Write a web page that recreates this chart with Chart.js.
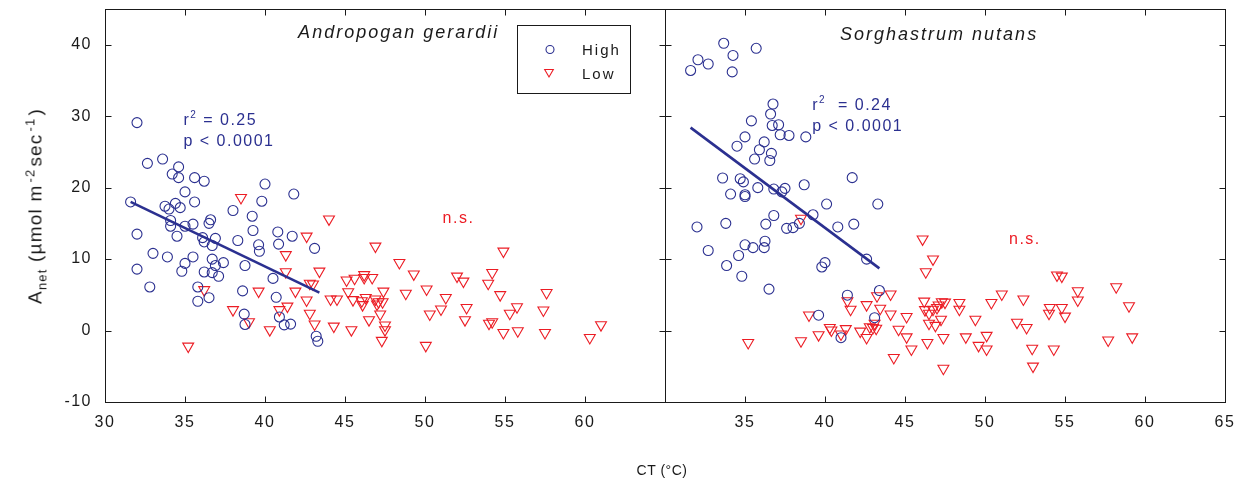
<!DOCTYPE html>
<html>
<head>
<meta charset="utf-8">
<script src="https://cdn.jsdelivr.net/npm/chart.js@4.4.1/dist/chart.umd.min.js"></script>
<style>
  body { margin: 0; background: #fff; }
  #wrap { position: relative; width: 1244px; height: 487px; font-family: 'Liberation Sans', Arial, sans-serif; color: #1a1a1a; }
  #left { position: absolute; left: 0; top: 0; }
  #right { position: absolute; left: 665px; top: 0; }
  #ytitle { position: absolute; left: 36px; top: 206px; transform: translate(-50%, -50%) rotate(-90deg);
            white-space: nowrap; font-size: 19px; letter-spacing: 1.2px; }
  #ytitle sub, #ytitle sup { font-size: 13px; }
  #ytitle sup { margin: 0 2px; }
  #xtitle { position: absolute; left: 662px; top: 462px; transform: translateX(-50%);
            white-space: nowrap; font-size: 14px; letter-spacing: 0.5px; }
</style>
</head>
<body>
<div id="wrap">
  <canvas id="left" width="666" height="487"></canvas>
  <canvas id="right" width="580" height="487"></canvas>
  <div id="ytitle">A<sub>net</sub> (µmol m<sup>-2</sup>sec<sup>-1</sup>)</div>
  <div id="xtitle">CT (°C)</div>
</div>
<script>
// Andropogan gerardii, [CT, Anet]
const agHigh = [
  [32.0, 29.1], [32.65, 23.4], [33.6, 24.0], [34.6, 22.9], [34.2, 21.9], [34.6, 21.4], [35.6, 21.4],
  [36.2, 20.9], [35.0, 19.4], [40.0, 20.5], [31.6, 18.0], [33.75, 17.4], [34.4, 17.8], [34.0, 17.0],
  [34.7, 17.2], [35.6, 18.0], [38.0, 16.8], [39.2, 16.0], [39.8, 18.1], [41.8, 19.1], [34.1, 15.4],
  [34.1, 14.6], [35.0, 14.6], [35.5, 14.9], [36.5, 15.0], [36.6, 15.5], [32.0, 13.5], [34.5, 13.2],
  [36.1, 13.0], [36.2, 12.4], [36.9, 12.9], [36.7, 11.9], [39.25, 14.0], [40.8, 13.8], [38.3, 12.6],
  [39.6, 12.0], [39.65, 11.1], [40.85, 12.1], [33.0, 10.8], [33.9, 10.3], [32.0, 8.6], [32.8, 6.1],
  [35.0, 9.4], [35.5, 10.3], [34.8, 8.3], [36.2, 8.2], [36.7, 10.0], [36.9, 9.1], [37.4, 9.5],
  [36.7, 8.1], [37.1, 7.6], [38.75, 9.1], [40.5, 7.3], [35.8, 6.1], [36.5, 4.6], [35.8, 4.1],
  [38.6, 5.55], [40.7, 4.65], [38.7, 2.3], [38.75, 0.85], [40.9, 1.9], [41.2, 0.8], [41.6, 0.9],
  [41.7, 13.2], [43.1, 11.5], [43.2, -0.8], [43.3, -1.5]
];
const agLow = [
  [38.5, 18.6], [44.0, 15.6], [42.6, 13.2], [46.9, 11.8], [41.3, 10.6], [41.3, 8.2], [43.4, 8.3],
  [48.4, 9.5], [49.3, 7.9], [46.2, 7.8], [46.7, 7.4], [45.6, 7.3], [45.1, 7.05], [46.2, 7.4],
  [42.8, 6.6], [43.0, 6.5], [41.9, 5.5], [45.2, 5.4], [47.4, 5.5], [48.8, 5.2], [50.1, 5.8],
  [52.0, 7.6], [52.4, 6.9], [51.3, 4.6], [51.0, 3.0], [50.3, 2.3], [52.6, 3.2], [52.5, 1.5],
  [42.6, 4.25], [44.1, 4.4], [44.5, 4.4], [45.5, 4.3], [46.05, 4.15], [46.3, 4.6], [46.1, 3.6],
  [46.9, 4.4], [47.1, 4.0], [47.0, 3.7], [47.35, 4.0], [42.8, 2.4], [43.1, 0.9], [44.3, 0.6],
  [45.4, 0.1], [46.5, 1.5], [47.2, 2.3], [47.5, 0.75], [47.5, 0.1], [47.3, -1.4], [50.05, -2.1],
  [54.9, 11.1], [54.2, 8.1], [53.95, 6.6], [54.7, 5.0], [57.6, 5.3], [55.75, 3.3], [55.3, 2.4],
  [57.4, 2.85], [54.0, 1.0], [54.2, 1.2], [54.9, -0.3], [55.8, -0.05], [57.5, -0.3], [61.0, 0.8],
  [60.3, -1.0], [36.2, 5.7], [39.6, 5.5], [38.0, 2.9], [39.0, 1.2], [40.3, 0.1], [40.9, 2.9],
  [41.4, 3.4], [35.2, -2.2]
];
// Sorghastrum nutans, [CT, Anet]
const snHigh = [
  [33.67, 40.2], [32.06, 37.9], [32.7, 37.3], [31.6, 36.4], [34.25, 38.5], [34.2, 36.2], [35.7, 39.5],
  [36.75, 31.7], [36.6, 30.3], [35.4, 29.35], [36.7, 28.7], [37.1, 28.8], [37.2, 27.4], [37.75, 27.3],
  [38.8, 27.1], [35.0, 27.1], [34.5, 25.8], [36.2, 26.4], [35.9, 25.3], [36.65, 24.8], [35.6, 24.0],
  [36.55, 23.8], [33.6, 21.35], [34.7, 21.25], [34.9, 20.8], [34.1, 19.1], [35.0, 19.0], [35.0, 18.75],
  [35.8, 20.0], [36.8, 19.8], [37.3, 19.4], [37.5, 19.9], [38.7, 20.4], [41.7, 21.4], [40.1, 17.7],
  [39.25, 16.2], [36.8, 16.1], [32.0, 14.5], [33.8, 15.0], [36.3, 14.9], [37.6, 14.3], [38.0, 14.4],
  [38.4, 15.0], [40.8, 14.5], [41.8, 14.9], [32.7, 11.2], [35.0, 12.0], [35.5, 11.6], [36.25, 12.5],
  [36.2, 11.6], [34.6, 10.5], [33.85, 9.1], [34.8, 7.6], [36.5, 5.8], [40.0, 9.5], [39.8, 8.9],
  [41.4, 4.95], [39.6, 2.15], [41.0, -1.0], [43.3, 17.7], [42.6, 10.0], [43.4, 5.6], [43.1, 1.8]
];
const snLow = [
  [38.5, 15.7], [35.2, -1.7], [38.5, -1.45], [39.0, 2.15], [39.6, -0.6], [40.3, 0.4], [40.4, 0.05],
  [41.0, -0.5], [41.3, 0.25], [41.4, 4.15], [41.6, 2.95], [46.1, 12.8], [46.75, 10.0], [46.3, 8.2],
  [44.1, 5.1], [43.25, 4.85], [42.6, 3.6], [43.45, 3.1], [44.1, 2.3], [45.1, 1.95], [46.2, 4.1],
  [46.25, 2.9], [46.5, 2.4], [46.75, 2.95], [47.0, 3.2], [47.1, 3.55], [47.3, 4.0], [47.5, 3.95],
  [47.25, 1.55], [46.9, 0.7], [46.5, 1.0], [48.4, 3.9], [48.4, 2.95], [49.4, 1.55], [50.4, 3.9],
  [51.05, 5.1], [52.4, 4.4], [52.0, 1.15], [52.6, 0.4], [42.8, 0.5], [43.0, 0.4], [43.1, 1.0],
  [43.2, 0.3], [42.2, -0.1], [42.6, -1.0], [44.6, 0.15], [45.1, -0.9], [45.4, -2.6], [44.3, -3.8],
  [46.4, -1.7], [47.4, -1.0], [47.4, -5.3], [48.8, -0.9], [50.1, -0.7], [49.6, -2.1], [50.1, -2.6],
  [52.95, -2.5], [53.0, -5.0], [54.5, 7.75], [54.8, 7.6], [55.8, 5.55], [55.8, 4.25], [58.2, 6.1],
  [54.05, 3.2], [54.0, 2.4], [54.8, 3.2], [55.0, 2.0], [59.0, 3.45], [57.7, -1.35], [59.2, -0.9],
  [54.3, -2.6]
];
// regression line end points (High only)
const agFit = [[31.6, 18.0], [43.4, 5.3]];
const snFit = [[31.6, 28.4], [43.4, 8.7]];

const yTicks = [-10, 0, 10, 20, 30, 40];
const agTicks = [30, 35, 40, 45, 50, 55, 60];
const snTicks = [35, 40, 45, 50, 55, 60, 65];

const BLUE = '#2b3090', RED = '#ec1c24', INK = '#1a1a1a';
const FONT = "'Liberation Sans', Arial, sans-serif";

const pts = arr => arr.map(([x, y]) => ({ x, y }));

function marker(ctx, style, cx, cy, r, color) {
  ctx.strokeStyle = color;
  ctx.lineWidth = 1.1;
  ctx.beginPath();
  if (style === 'circle') {
    ctx.arc(cx, cy, r, 0, Math.PI * 2);
  } else {
    ctx.moveTo(cx - r * 0.866, cy - r / 2);
    ctx.lineTo(cx + r * 0.866, cy - r / 2);
    ctx.lineTo(cx, cy + r);
    ctx.closePath();
  }
  ctx.stroke();
}

// text pieces, some of them raised as superscript
function runs(ctx, x, y, parts, size, color, italic) {
  ctx.fillStyle = color;
  ctx.textBaseline = 'alphabetic';
  ctx.textAlign = 'left';
  parts.forEach(p => {
    const sup = Array.isArray(p);
    const t = sup ? p[0] : p;
    ctx.font = (italic ? 'italic ' : '') + (sup ? Math.round(size * 0.65) : size) + 'px ' + FONT;
    ctx.fillText(t, x, sup ? y - size * 0.45 : y);
    x += ctx.measureText(t).width;
  });
}

// box with inward ticks, plus the texts that sit inside a panel
const framePlugin = {
  id: 'frame',
  beforeDraw(chart) {
    chart.ctx.letterSpacing = '1.5px';
  },
  afterDraw(chart, args, opts) {
    const { ctx, chartArea: a, scales: { x, y } } = chart;
    const L = Math.floor(a.left) + 0.5, R = Math.floor(a.right) + 0.5;
    const T = Math.floor(a.top) + 0.5, B = Math.floor(a.bottom) + 0.5;
    ctx.save();
    ctx.strokeStyle = INK;
    ctx.lineWidth = 1;
    ctx.strokeRect(L, T, R - L, B - T);
    ctx.beginPath();
    x.ticks.forEach(t => {
      const px = Math.round(x.getPixelForValue(t.value)) + 0.5;
      ctx.moveTo(px, B); ctx.lineTo(px, B - 6);
      ctx.moveTo(px, T); ctx.lineTo(px, T + 6);
    });
    y.ticks.forEach(t => {
      const py = Math.round(y.getPixelForValue(t.value)) + 0.5;
      ctx.moveTo(L, py); ctx.lineTo(L + 6, py);
      ctx.moveTo(R, py); ctx.lineTo(R - 6, py);
    });
    ctx.stroke();

    (opts.notes || []).forEach(n => {
      ctx.letterSpacing = n.spacing || '1.5px';
      runs(ctx, x.getPixelForValue(n.x), y.getPixelForValue(n.y), n.parts, n.size, n.color, n.italic);
    });

    if (opts.legend) {
      const lg = opts.legend;
      ctx.strokeStyle = INK;
      ctx.lineWidth = 1;
      ctx.strokeRect(lg.left + 0.5, lg.top + 0.5, lg.width, lg.height);
      marker(ctx, 'circle', lg.left + 33, lg.top + 24.5, 4, BLUE);
      marker(ctx, 'triangle', lg.left + 32, lg.top + 47, 5, RED);
      ctx.letterSpacing = '2px';
      ctx.fillStyle = INK;
      ctx.font = '15px ' + FONT;
      ctx.fillText('High', lg.left + 65, lg.top + 30);
      ctx.fillText('Low', lg.left + 65, lg.top + 54);
    }
    ctx.restore();
  }
};

function makeChart(id, high, low, fit, xTicks, showY, frameOpts) {
  return new Chart(document.getElementById(id), {
    type: 'scatter',
    data: {
      datasets: [
        { label: 'fit', data: pts(fit), showLine: true, borderColor: BLUE, borderWidth: 2.6, pointRadius: 0 },
        { label: 'High', data: pts(high), pointStyle: 'circle', pointRadius: 5,
          borderColor: BLUE, backgroundColor: 'rgba(0,0,0,0)', borderWidth: 1.1 },
        { label: 'Low', data: pts(low), pointStyle: 'triangle', pointRotation: 180, pointRadius: 6.3,
          borderColor: RED, backgroundColor: 'rgba(0,0,0,0)', borderWidth: 1.1 }
      ]
    },
    options: {
      responsive: false,
      animation: false,
      events: [],
      layout: { autoPadding: false, padding: { top: 9, left: 0, right: showY ? 1 : 20, bottom: 0 } },
      plugins: { legend: { display: false }, tooltip: { enabled: false }, frame: frameOpts },
      scales: {
        x: {
          type: 'linear', min: 30, max: 65,
          afterBuildTicks: s => { s.ticks = xTicks.map(v => ({ value: v })); },
          afterFit: s => { s.height = 85; s.paddingLeft = 0; s.paddingRight = 0; },
          grid: { display: false, drawTicks: false },
          border: { display: false },
          ticks: { padding: 11, color: INK, maxRotation: 0, autoSkip: false, font: { family: FONT, size: 16 } }
        },
        y: {
          type: 'linear', min: -10, max: 45,
          afterBuildTicks: s => { s.ticks = yTicks.map(v => ({ value: v })); },
          afterFit: s => { s.width = showY ? 105 : 0; s.paddingTop = 0; s.paddingBottom = 0; },
          grid: { display: false, drawTicks: false },
          border: { display: false },
          ticks: { display: showY, padding: 13, color: INK, autoSkip: false, font: { family: FONT, size: 16 } }
        }
      }
    },
    plugins: [framePlugin]
  });
}

makeChart('left', agHigh, agLow, agFit, agTicks, true, {
  notes: [
    { x: 42.07, y: 40.9, parts: ['Andropogan gerardii'], size: 18, color: INK, italic: true, spacing: '2px' },
    { x: 34.9, y: 28.7, parts: ['r', ['2'], ' = 0.25'], size: 16, color: BLUE },
    { x: 34.9, y: 25.8, parts: ['p < 0.0001'], size: 16, color: BLUE },
    { x: 51.1, y: 15.0, parts: ['n.s.'], size: 16, color: RED }
  ],
  legend: { left: 517, top: 25, width: 113, height: 68 }
});

makeChart('right', snHigh, snLow, snFit, snTicks, false, {
  notes: [
    { x: 40.94, y: 40.6, parts: ['Sorghastrum nutans'], size: 18, color: INK, italic: true, spacing: '2px' },
    { x: 39.2, y: 30.8, parts: ['r', ['2'], '  = 0.24'], size: 16, color: BLUE },
    { x: 39.2, y: 27.9, parts: ['p < 0.0001'], size: 16, color: BLUE },
    { x: 51.5, y: 12.1, parts: ['n.s.'], size: 16, color: RED }
  ]
});
</script>
</body>
</html>
